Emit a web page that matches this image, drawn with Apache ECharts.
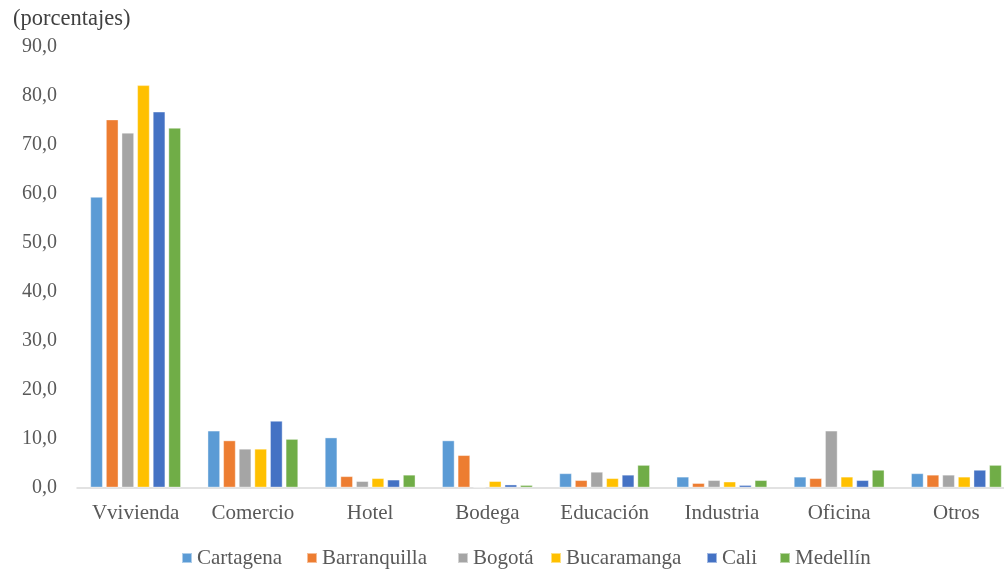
<!DOCTYPE html>
<html><head><meta charset="utf-8">
<script src="https://cdn.jsdelivr.net/npm/echarts@6/dist/echarts.min.js"></script>
<style>html,body{margin:0;padding:0;background:#fff;overflow:hidden}#c{width:1030px;height:572px}</style>
</head><body><div id="c"></div>
<script>
const categories = ['Vvivienda','Comercio','Hotel','Bodega','Educación','Industria','Oficina','Otros'];
const cities = ['Cartagena','Barranquilla','Bogotá','Bucaramanga','Cali','Medellín'];
const cartagena    = [59.3, 11.6, 10.2, 9.6, 2.9, 2.2, 2.2, 2.9];
const barranquilla = [75.1, 9.6, 2.3, 6.6, 1.5, 0.9, 1.9, 2.6];
const bogota       = [72.4, 7.9, 1.3, 0.1, 3.2, 1.5, 11.6, 2.6];
const bucaramanga  = [82.1, 7.9, 1.9, 1.3, 1.9, 1.2, 2.2, 2.2];
const cali         = [76.7, 13.6, 1.6, 0.6, 2.6, 0.5, 1.5, 3.6];
const medellin     = [73.4, 9.9, 2.6, 0.5, 4.6, 1.5, 3.6, 4.6];
const yTicks = {min: 0, max: 90, interval: 10};
const colors = ['#5B9BD5','#ED7D31','#A5A5A5','#FFC000','#4472C4','#70AD47'];
const seriesData = [cartagena, barranquilla, bogota, bucaramanga, cali, medellin];
const legendLeft = [181, 306, 457, 550, 706, 779];

const font = "'Liberation Serif', 'DejaVu Serif', serif";
const chart = echarts.init(document.getElementById('c'));
chart.setOption({
  animation: false,
  color: colors,
  textStyle: {fontFamily: font},
  title: {text: '(porcentajes)', left: 8, top: 3, textStyle: {fontFamily: font, fontSize: 22.5, fontWeight: 'normal', color: '#404040'}},
  grid: {left: 77, top: 46.5, width: 938, height: 441},
  legend: cities.map((c, i) => ({
    top: 547.5, left: legendLeft[i], padding: 0,
    icon: 'rect', itemWidth: 10, itemHeight: 10,
    textStyle: {fontFamily: font, fontSize: 21, color: '#595959'},
    data: [c]
  })),
  xAxis: {
    type: 'category', data: categories,
    axisLine: {lineStyle: {color: '#D9D9D9', width: 1.5}},
    axisTick: {show: false},
    axisLabel: {fontFamily: font, fontSize: 21, color: '#595959', margin: 15}
  },
  yAxis: {
    type: 'value', min: yTicks.min, max: yTicks.max, interval: yTicks.interval,
    splitLine: {show: false},
    axisLine: {show: false}, axisTick: {show: false},
    axisLabel: {fontFamily: font, fontSize: 20, color: '#595959', margin: 20,
      formatter: v => v.toFixed(1).replace('.', ',')}
  },
  series: seriesData.map((d, i) => ({
    name: cities[i], type: 'bar', data: d,
    barWidth: 12.5, barGap: '25%',
    itemStyle: {borderColor: 'rgba(255,255,255,0.5)', borderWidth: 0.8}
  }))
});
</script></body></html>
